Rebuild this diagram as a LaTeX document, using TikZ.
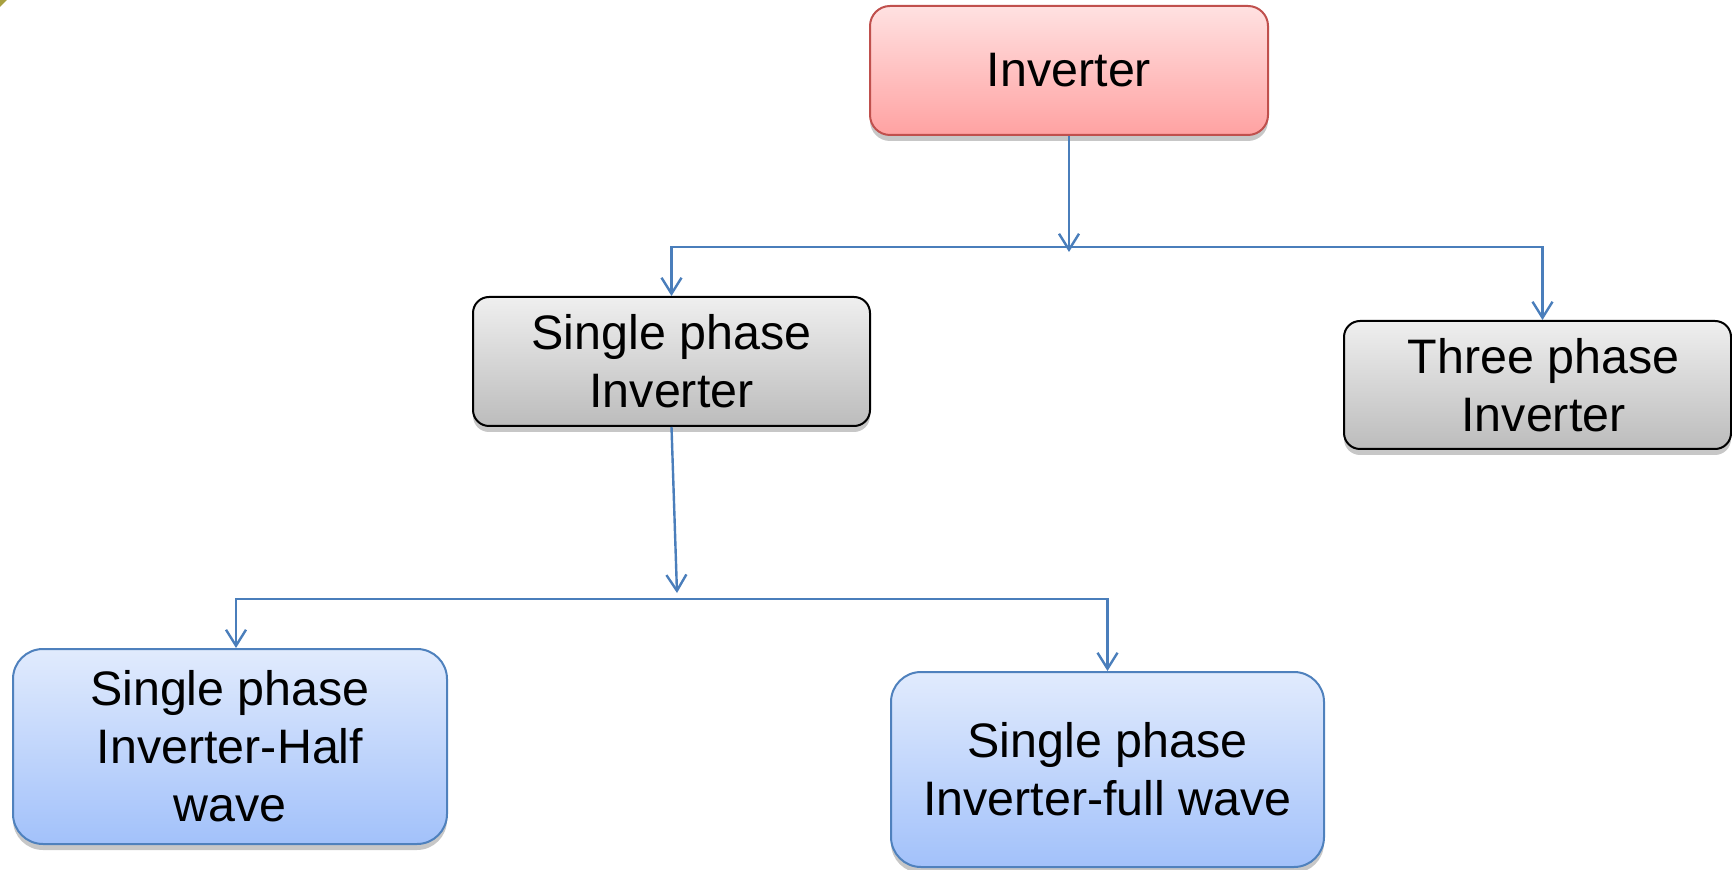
\documentclass[tikz,border=0pt]{standalone}
\usepackage{fontspec}
\setmainfont{Liberation Sans}
\usetikzlibrary{arrows.meta,shadows}
\definecolor{redtop}{HTML}{FFE1E1}
\definecolor{redbot}{HTML}{FFA2A2}
\definecolor{redline}{HTML}{C0504D}
\definecolor{graytop}{HTML}{EFEFEF}
\definecolor{graybot}{HTML}{BCBCBC}
\definecolor{bluetop}{HTML}{E1EBFD}
\definecolor{bluebot}{HTML}{A2C1FA}
\definecolor{blueline}{HTML}{4F81BD}
\definecolor{arrcol}{HTML}{4A7EBB}
\definecolor{corner}{HTML}{A8A040}
\begin{document}
\begin{tikzpicture}[x=0.5pt,y=-0.5pt,
  box/.style={rectangle, align=center, inner sep=0pt, line width=1pt,
    font=\fontsize{24.2}{29}\selectfont,
    drop shadow={shadow xshift=0pt, shadow yshift=-3pt, opacity=0.22, fill=black}},
  redbox/.style={box, draw=redline, top color=redtop, bottom color=redbot, rounded corners=10pt},
  graybox/.style={box, draw=black, top color=graytop, bottom color=graybot, rounded corners=8pt},
  bluebox/.style={box, draw=blueline, top color=bluetop, bottom color=bluebot, rounded corners=15pt},
  arr/.style={draw=arrcol, line width=1.2pt, -{Straight Barb[length=8pt,width=10pt,line width=1.2pt]}}]
\useasboundingbox (0,0) rectangle (1732,870);
\fill[corner] (0,0) -- (7,0) -- (0,7) -- cycle;

\node[redbox, minimum width=199pt, minimum height=64.5pt] (inv) at (1069,70.5) {Inverter};
\node[graybox, minimum width=198.5pt, minimum height=64.5pt] (sp) at (671.5,361.5) {Single phase\\Inverter};
\node[graybox, minimum width=193.5pt, minimum height=64pt] (tp) at (1537.5,385) {\hspace*{6pt}Three phase\\\hspace*{6pt}Inverter};
\node[bluebox, minimum width=217pt, minimum height=97.5pt] (hw) at (230,746.5) {Single phase\\Inverter-Half\\wave};
\node[bluebox, minimum width=216.5pt, minimum height=97.5pt] (fw) at (1107.5,769.5) {Single phase\\Inverter-full wave};

\coordinate (j1) at (1069,247);
\coordinate (t1) at (1069,252);
\coordinate (j2) at (677,599);
\coordinate (t2) at (677,593);

\draw[arr] (inv.south) -- (t1);
\draw[arr] (j1) -| (sp.north);
\draw[arr] (j1) -| ([xshift=2.5pt]tp.north);
\draw[arr] (sp.south) -- (t2);
\draw[arr] (j2) -| ([xshift=3pt]hw.north);
\draw[arr] (j2) -| (fw.north);
\end{tikzpicture}
\end{document}
